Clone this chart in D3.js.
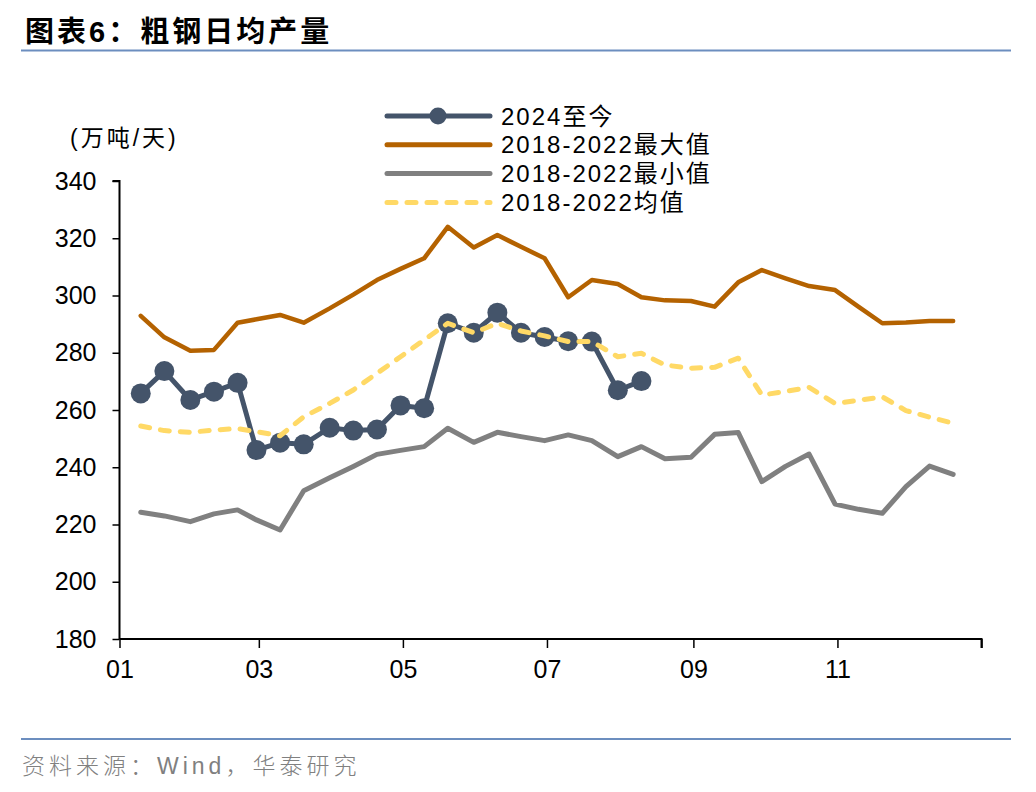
<!DOCTYPE html>
<html>
<head>
<meta charset="utf-8">
<script src="https://cdn.jsdelivr.net/npm/d3@7"></script>
<style>
  body { margin: 0; background: #fff; }
  text { font-family: "Liberation Sans", Arial, "Noto Sans CJK SC", sans-serif; }
</style>
</head>
<body>
<div id="chart-area"></div>
<script>
// 旬度数据：每月10日、20日、月末
var dates = ['01-10','01-20','01-31','02-10','02-20','02-28','03-10','03-20','03-31',
  '04-10','04-20','04-30','05-10','05-20','05-31','06-10','06-20','06-30',
  '07-10','07-20','07-31','08-10','08-20','08-31','09-10','09-20','09-30',
  '10-10','10-20','10-31','11-10','11-20','11-30','12-10','12-20']

var cur2024 = [265.8, 273.6, 263.5, 266.4, 269.5, 246.0, 248.6, 248.0, 253.8, 252.8, 253.2,
  261.6, 260.6, 290.3, 287.0, 294.0, 287.0, 285.5, 284.0, 283.9, 266.9, 270.1]

var maxVals = [292.9, 285.4, 280.7, 281.0, 290.5, 291.7, 293.2, 290.5, 295.5, 300.3, 305.4, 309.3,
  313.0, 324.0, 316.8, 321.1, 317.0, 313.0, 299.4, 305.4, 304.0, 299.4, 298.3, 298.1,
  296.1, 304.6, 308.9, 306.0, 303.3, 301.9, 296.0, 290.3, 290.6, 291.1, 291.1]

var minVals = [224.3, 223.0, 221.0, 223.7, 225.1, 221.6, 218.1, 231.8, 236.3, 240.3, 244.5, 245.9,
  247.2, 253.6, 248.7, 252.2, 250.7, 249.3, 251.3, 249.3, 243.7, 247.2, 243.0, 243.5,
  251.5, 252.1, 235.0, 240.3, 244.6, 227.1, 225.3, 223.9, 233.2, 240.4, 237.5]

var avgVals = [254.4, 252.8, 252.2, 253.0, 253.5, 252.4, 251.0, 257.6, 262.3, 267.0, 272.8, 278.6,
  284.5, 290.3, 287.0, 290.3, 287.6, 285.9, 283.9, 283.9, 278.6, 279.8, 275.7, 274.6,
  274.9, 278.1, 265.2, 266.5, 267.9, 262.3, 263.4, 264.6, 259.8, 257.5, 255.4]

var yTicks = [180, 200, 220, 240, 260, 280, 300, 320, 340]
var xTickMonths = ['01', '03', '05', '07', '09', '11']

var seriesNames = ['2024至今', '2018-2022最大值', '2018-2022最小值', '2018-2022均值']
var seriesColors = ['#44546a', '#b46200', '#808080', '#ffd966']

var margin = { left: 119.5, right: 54.5, top: 181, bottom: 153 }
var width = 1036 - margin.left - margin.right,
    height = 792 - margin.top - margin.bottom;

var svg = d3.select('#chart-area')
  .append('svg')
  .attr('width', 1036)
  .attr('height', 792)

// 标题与分隔线
svg.append('text')
  .attr('x', 25)
  .attr('y', 42)
  .attr('font-family', '"Noto Sans CJK SC", sans-serif')
  .attr('font-weight', 'bold')
  .attr('font-size', 29)
  .attr('letter-spacing', 3)
  .attr('fill', '#000')
  .text('图表6：粗钢日均产量')

svg.append('line')
  .attr('x1', 21).attr('x2', 1011)
  .attr('y1', 50.5).attr('y2', 50.5)
  .attr('stroke', '#6c8ebf').attr('stroke-width', 2)

svg.append('line')
  .attr('x1', 21).attr('x2', 1011)
  .attr('y1', 739).attr('y2', 739)
  .attr('stroke', '#6c8ebf').attr('stroke-width', 2)

svg.append('text')
  .attr('x', 22)
  .attr('y', 774)
  .attr('font-family', '"Noto Sans CJK SC", sans-serif')
  .attr('font-size', 23)
  .attr('font-weight', 300)
  .attr('letter-spacing', 4)
  .attr('fill', '#808080')
  .text('资料来源：Wind，华泰研究')

svg.append('text')
  .attr('x', 70)
  .attr('y', 146)
  .attr('font-family', '"Noto Sans CJK SC", sans-serif')
  .attr('font-size', 23)
  .attr('letter-spacing', 3)
  .attr('fill', '#000')
  .text('(万吨/天)')

var g = svg.append('g')
  .attr('transform', 'translate(' + margin.left + ', ' + margin.top + ')')

var parse = d3.timeParse('%Y-%m-%d')
var toDate = function(s) { return parse('2023-' + s) }

var x = d3.scaleTime()
  .domain([new Date(2023, 0, 1), new Date(2024, 0, 1)])
  .range([0, width])

var y = d3.scaleLinear()
  .domain([180, 340])
  .range([height, 0])

// 坐标轴
var xTickVals = xTickMonths.map(function(m) { return toDate(m + '-01') })
  .concat([new Date(2024, 0, 1)])

var xAxis = g.append('g')
  .attr('transform', 'translate(0,' + height + ')')
  .call(d3.axisBottom(x)
    .tickValues(xTickVals)
    .tickSize(9)
    .tickPadding(12)
    .tickFormat(function(d, i) { return i < xTickMonths.length ? xTickMonths[i] : '' }))

var yAxis = g.append('g')
  .call(d3.axisLeft(y)
    .tickValues(yTicks)
    .tickSize(7)
    .tickPadding(16)
    .tickFormat(d3.format('d')))

;[xAxis, yAxis].forEach(function(ax) {
  ax.select('.domain').attr('stroke', '#000').attr('stroke-width', 2)
  ax.selectAll('.tick line').attr('stroke', '#000').attr('stroke-width', 1.5)
  ax.selectAll('.tick text')
    .attr('font-family', '"Liberation Sans", Arial, sans-serif')
    .attr('font-size', 25)
    .attr('fill', '#000')
})
xAxis.select('.domain').attr('d', 'M0,0H' + width + 'V9')
yAxis.select('.domain').attr('d', 'M-7,0H0V' + height)

// 折线
var line = d3.line()
  .x(function(d) { return x(d.date) })
  .y(function(d) { return y(d.v) })

function toPoints(vals) {
  return vals.map(function(v, i) { return { date: toDate(dates[i]), v: v } })
}

g.append('path')
  .datum(toPoints(minVals))
  .attr('d', line)
  .attr('fill', 'none')
  .attr('stroke', seriesColors[2])
  .attr('stroke-width', 5)
  .attr('stroke-linejoin', 'round')
  .attr('stroke-linecap', 'round')

g.append('path')
  .datum(toPoints(maxVals))
  .attr('d', line)
  .attr('fill', 'none')
  .attr('stroke', seriesColors[1])
  .attr('stroke-width', 4.5)
  .attr('stroke-linejoin', 'round')
  .attr('stroke-linecap', 'round')

var curPts = toPoints(cur2024)

g.append('path')
  .datum(curPts)
  .attr('d', line)
  .attr('fill', 'none')
  .attr('stroke', seriesColors[0])
  .attr('stroke-width', 5)
  .attr('stroke-linejoin', 'round')

g.selectAll('circle.cur')
  .data(curPts)
  .enter()
  .append('circle')
  .attr('class', 'cur')
  .attr('cx', function(d) { return x(d.date) })
  .attr('cy', function(d) { return y(d.v) })
  .attr('r', 10)
  .attr('fill', seriesColors[0])

g.append('path')
  .datum(toPoints(avgVals))
  .attr('d', line)
  .attr('fill', 'none')
  .attr('stroke', seriesColors[3])
  .attr('stroke-width', 5)
  .attr('stroke-dasharray', '9 11')
  .attr('stroke-linecap', 'round')
  .attr('stroke-linejoin', 'round')

// 图例
var legend = svg.append('g')
  .attr('transform', 'translate(385,116)')

var item = legend.selectAll('g')
  .data(seriesNames)
  .enter()
  .append('g')
  .attr('transform', function(d, i) { return 'translate(0,' + (i * 28.8) + ')' })

item.append('line')
  .attr('x1', 2).attr('x2', 105)
  .attr('stroke', function(d, i) { return seriesColors[i] })
  .attr('stroke-width', 5)
  .attr('stroke-linecap', 'round')
  .attr('stroke-dasharray', function(d, i) { return i === 3 ? '9 11' : null })

item.filter(function(d, i) { return i === 0 })
  .append('circle')
  .attr('cx', 53)
  .attr('r', 8.5)
  .attr('fill', seriesColors[0])

item.append('text')
  .attr('x', 116)
  .attr('dy', '0.36em')
  .attr('font-size', 24)
  .attr('letter-spacing', 2)
  .attr('fill', '#000')
  .text(function(d) { return d })
</script>
</body>
</html>
